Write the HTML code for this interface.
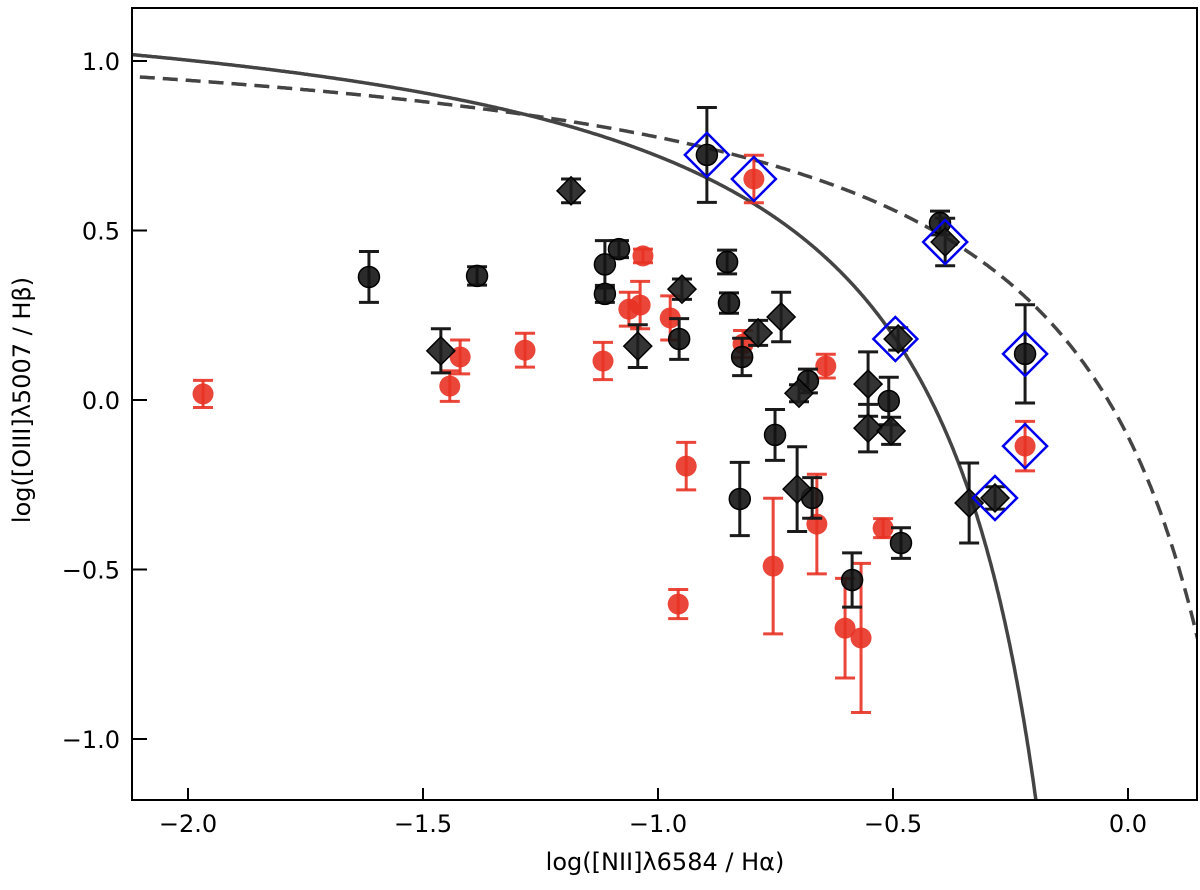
<!DOCTYPE html>
<html><head><meta charset="utf-8"><style>
html,body{margin:0;padding:0;background:#fff;overflow:hidden;width:1200px;height:890px;}
svg{display:block;font-family:"DejaVu Sans","Liberation Sans",sans-serif;}
</style></head><body>
<svg id="chart" width="1200" height="890" viewBox="0 0 1200 890" xmlns="http://www.w3.org/2000/svg">
<defs><clipPath id="clip"><rect x="132" y="8" width="1065" height="792"/></clipPath></defs>
<g id="curves" clip-path="url(#clip)"></g>
<g id="marks" clip-path="url(#clip)"></g>
<rect x="132" y="8" width="1065" height="792" fill="none" stroke="#000" stroke-width="2"/>
<g id="axes"></g>
<text x="665" y="870" font-size="24" text-anchor="middle">log([NII]λ6584 / Hα)</text>
<text transform="translate(30,400) rotate(-90)" font-size="24" text-anchor="middle">log([OIII]λ5007 / Hβ)</text>
</svg>
<script>
const xTicks = [-2.0, -1.5, -1.0, -0.5, 0.0];
const xTickLabels = ["\u22122.0", "\u22121.5", "\u22121.0", "\u22120.5", "0.0"];
const yTicks = [1.0, 0.5, 0.0, -0.5, -1.0];
const yTickLabels = ["1.0", "0.5", "0.0", "\u22120.5", "\u22121.0"];

const blackCircX = [-0.896,-1.615,-1.385,-1.113,-1.113,-1.083,-0.853,-0.849,-0.955,-0.821,-0.681,-0.751,-0.826,-0.672,-0.587,-0.509,-0.483,-0.40,-0.219];
const blackCircY = [0.723,0.363,0.366,0.40,0.313,0.445,0.407,0.286,0.18,0.127,0.056,-0.103,-0.292,-0.289,-0.531,-0.003,-0.422,0.522,0.136];
const blackCircErr = [0.14,0.075,0.027,0.07,0.025,0.025,0.035,0.03,0.06,0.055,0.035,0.075,0.108,0.06,0.08,0.07,0.045,0.035,0.145];

const diamX = [-1.185,-1.462,-1.043,-0.949,-0.787,-0.738,-0.70,-0.553,-0.553,-0.504,-0.489,-0.704,-0.389,-0.338,-0.283];
const diamY = [0.617,0.145,0.159,0.327,0.198,0.245,0.02,0.047,-0.083,-0.091,0.18,-0.263,0.466,-0.304,-0.289];
const diamErr = [0.035,0.065,0.063,0.03,0.037,0.073,0.025,0.095,0.07,0.04,0.033,0.125,0.07,0.118,0.033];

const redX = [-1.968,-1.443,-1.421,-1.283,-1.117,-1.032,-1.062,-1.038,-0.974,-0.819,-0.796,-0.643,-0.94,-0.957,-0.755,-0.662,-0.602,-0.568,-0.521,-0.219];
const redY = [0.018,0.041,0.127,0.147,0.115,0.425,0.268,0.28,0.242,0.165,0.652,0.1,-0.195,-0.602,-0.49,-0.366,-0.673,-0.702,-0.378,-0.136];
const redErr = [0.04,0.045,0.05,0.05,0.055,0.02,0.05,0.07,0.065,0.04,0.07,0.035,0.07,0.043,0.2,0.147,0.147,0.22,0.028,0.073];

const agnX = [-0.896,-0.796,-0.389,-0.495,-0.219,-0.219,-0.283];
const agnY = [0.723,0.652,0.466,0.18,0.136,-0.136,-0.289];

const X0 = 1128, XS = 470, Y0 = 400, YS = 339;
function sx(v){ return X0 + XS*v; }
function sy(v){ return Y0 - YS*v; }
const NS = "http://www.w3.org/2000/svg";
function mk(tag, attrs, parent){
  const e = document.createElementNS(NS, tag);
  for (const k in attrs) e.setAttribute(k, attrs[k]);
  parent.appendChild(e);
  return e;
}
const axes = document.getElementById('axes');
xTicks.forEach((t,i)=>{
  const l = mk('line',{x1:sx(t),x2:sx(t),y1:800,y2:788,stroke:'#000','stroke-width':2},axes);
  
  
  const tx = mk('text',{x:sx(t),y:832,'font-size':24,'text-anchor':'middle'},axes);
  tx.textContent = xTickLabels[i];
  
  
});
yTicks.forEach((t,i)=>{
  const l = mk('line',{x1:132,x2:147,y1:sy(t),y2:sy(t),stroke:'#000','stroke-width':2},axes);
  
  
  const tx = mk('text',{x:120,y:sy(t)+9,'font-size':24,'text-anchor':'end'},axes);
  tx.textContent = yTickLabels[i];
  
  
});
const cg = document.getElementById('curves');
let dK = '', dKw = '';
for (let x=-2.2; x<0.04; x+=0.002){
  const y = 0.61/(x-0.05)+1.3;
  if (y < -1.2) break;
  dK += (dK?'L':'M') + sx(x).toFixed(1)+','+sy(y).toFixed(1);
}
for (let x=-2.2; x<0.2; x+=0.002){
  const y = 0.61/(x-0.47)+1.19;
  dKw += (dKw?'L':'M') + sx(x).toFixed(1)+','+sy(y).toFixed(1);
}
const pk = mk('path',{d:dK,fill:'none',stroke:'#444','stroke-width':3.5},cg);


const pw = mk('path',{d:dKw,fill:'none',stroke:'#444','stroke-width':3.5,'stroke-dasharray':'15,8'},cg);



const mg = document.getElementById('marks');
function errbar(x,y,e,color){
  const g = mk('g',{stroke:color,'stroke-width':3},mg);
  
  
  mk('line',{x1:sx(x),x2:sx(x),y1:sy(y+e),y2:sy(y-e)},g);
  mk('line',{x1:sx(x)-10,x2:sx(x)+10,y1:sy(y+e),y2:sy(y+e)},g);
  mk('line',{x1:sx(x)-10,x2:sx(x)+10,y1:sy(y-e),y2:sy(y-e)},g);
}
redX.forEach((x,i)=>{
  errbar(x,redY[i],redErr[i],'rgba(232,50,35,0.9)');
  const c = mk('circle',{cx:sx(x),cy:sy(redY[i]),r:10.5,fill:'rgba(232,50,35,0.9)'},mg);
  
  
});
blackCircX.forEach((x,i)=>{
  errbar(x,blackCircY[i],blackCircErr[i],'#1a1a1a');
  const c = mk('circle',{cx:sx(x),cy:sy(blackCircY[i]),r:10.5,fill:'rgba(20,20,20,0.9)',stroke:'#000','stroke-width':1.5},mg);
  
  
});
diamX.forEach((x,i)=>{
  errbar(x,diamY[i],diamErr[i],'#1a1a1a');
  const cx = sx(x), cy = sy(diamY[i]), r = 14;
  const p = mk('polygon',{points:`${cx},${cy-r} ${cx+r},${cy} ${cx},${cy+r} ${cx-r},${cy}`,fill:'rgba(30,30,30,0.9)',stroke:'#000','stroke-width':1.5},mg);
  
  
});
agnX.forEach((x,i)=>{
  const cx = sx(x), cy = sy(agnY[i]), r = 22;
  const p = mk('polygon',{points:`${cx},${cy-r} ${cx+r},${cy} ${cx},${cy+r} ${cx-r},${cy}`,fill:'none',stroke:'#0000ee','stroke-width':2.5},mg);
  
  
});
</script>
</body></html>
